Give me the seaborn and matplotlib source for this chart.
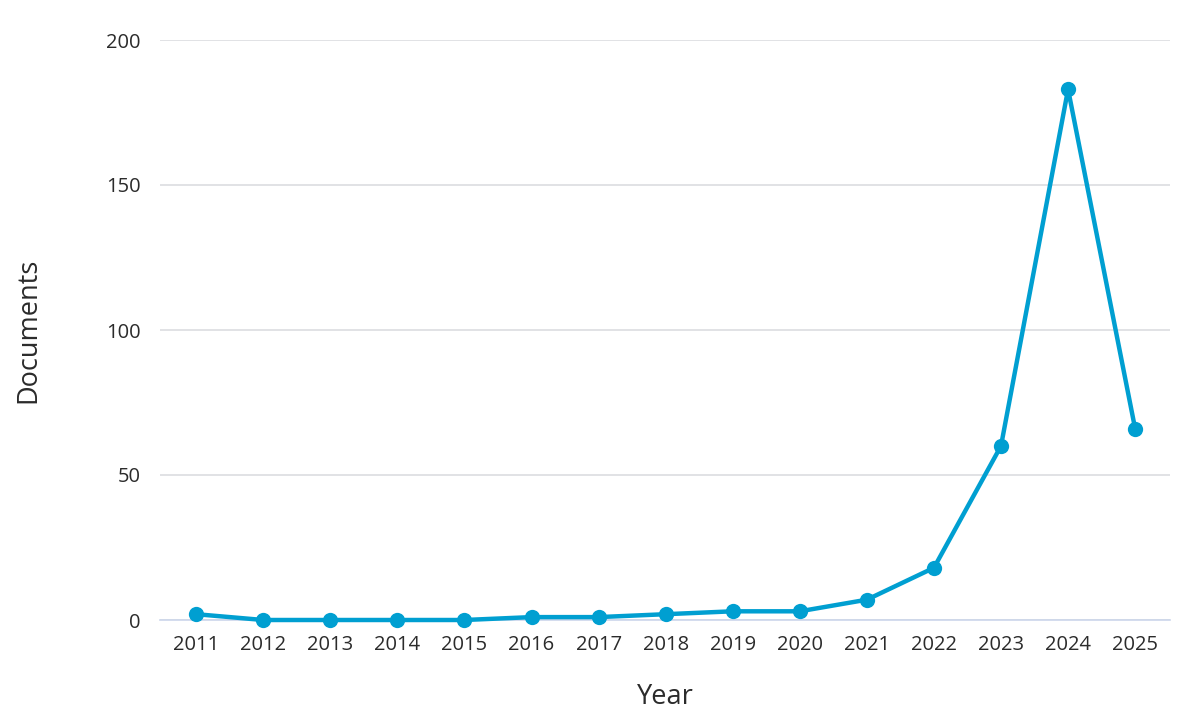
import matplotlib
matplotlib.use("Agg")
import matplotlib.pyplot as plt
import seaborn as sns
import pandas as pd

years = [2011, 2012, 2013, 2014, 2015, 2016, 2017, 2018, 2019, 2020, 2021, 2022, 2023, 2024, 2025]
documents = [2, 0, 0, 0, 0, 1, 1, 2, 3, 3, 7, 18, 60, 183, 66]
y_ticks = [0, 50, 100, 150, 200]

sns.set_theme(style="white")
plt.rcParams['font.family'] = ['Open Sans', 'DejaVu Sans']

df = pd.DataFrame({"Year": years, "Documents": documents})

fig = plt.figure(figsize=(12, 7.26), dpi=100)
ax = fig.add_axes([160/1200, 1 - 620/726, (1170-160)/1200, (620-40)/726])

line_color = "#009fd1"
sns.lineplot(data=df, x="Year", y="Documents", ax=ax, color=line_color,
             linewidth=3.2, marker="o", markersize=11, markeredgewidth=0,
             clip_on=False, zorder=5)

ax.set_xlim(years[0] - 0.54, years[-1] + 0.52)
ax.set_ylim(0, 200)
ax.set_yticks(y_ticks)
ax.set_xticks(years)
ax.set_xticklabels([str(y) for y in years])

ax.grid(axis="y", color="#d8dade", linewidth=1.1)
ax.grid(axis="x", visible=False)
for s in ["top", "right", "left"]:
    ax.spines[s].set_visible(False)
ax.spines["bottom"].set_color("#ccd6eb")
ax.spines["bottom"].set_linewidth(1.2)
ax.spines["bottom"].set_zorder(1)

ax.tick_params(axis="both", length=0, labelsize=14.5, colors="#2b2b2b")
ax.tick_params(axis="x", pad=11)
ax.tick_params(axis="y", pad=14)

ax.set_xlabel("Year", fontsize=19.5, color="#2b2b2b", labelpad=20)
ax.set_ylabel("Documents", fontsize=19.5, color="#2b2b2b", labelpad=46)

fig.savefig("out.png", dpi=100)
